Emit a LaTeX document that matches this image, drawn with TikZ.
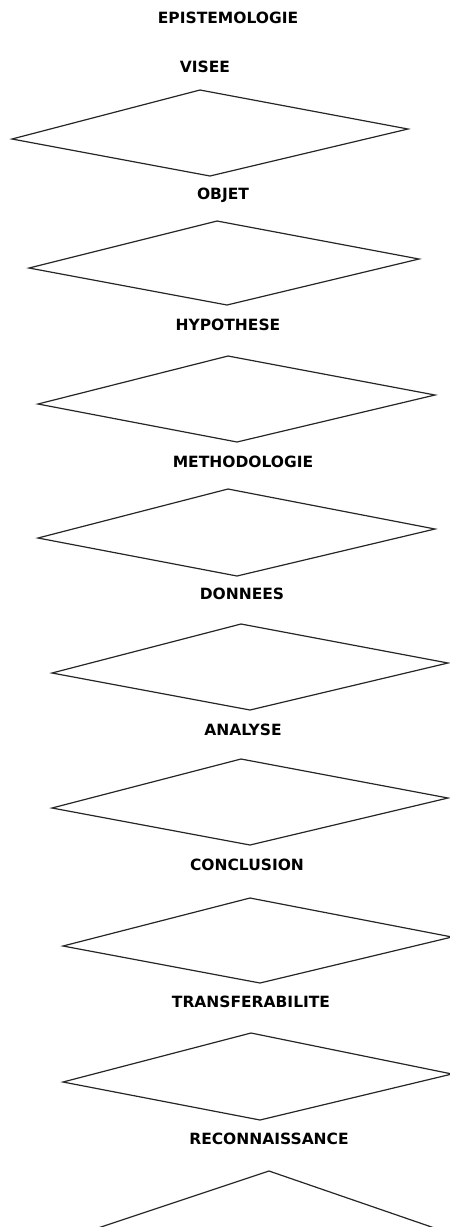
\documentclass[tikz,border=0pt]{standalone}
\usepackage{fontspec}
\setmainfont{DejaVu Sans}
\begin{document}
\begin{tikzpicture}[x=1pt,y=-1pt,
  lbl/.style={font=\bfseries\fontsize{15.5}{17}\selectfont, inner sep=0pt, anchor=center, text=black},
  rhomb/.style={draw=black!85, line width=1.2pt, line join=miter}]
\useasboundingbox (0,0) rectangle (450,1227);
\clip (0,0) rectangle (450,1227);
\node[lbl] (title) at (228,18) {EPISTEMOLOGIE};
\node[lbl] (l1) at (205,67) {VISEE};
\node[lbl] (l2) at (223,195) {OBJET};
\node[lbl] (l3) at (228,325) {HYPOTHESE};
\node[lbl] (l4) at (243,462) {METHODOLOGIE};
\node[lbl] (l5) at (242,594) {DONNEES};
\node[lbl] (l6) at (243,730) {ANALYSE};
\node[lbl] (l7) at (247,865) {CONCLUSION};
\node[lbl] (l8) at (251,1002) {TRANSFERABILITE};
\node[lbl] (l9) at (269,1139) {RECONNAISSANCE};
\draw[rhomb] (200,90) -- (408,129) -- (210,176) -- (12,139) -- cycle;
\draw[rhomb] (217,221) -- (419,259) -- (227,305) -- (29,268) -- cycle;
\draw[rhomb] (228,356) -- (435,395) -- (237,442) -- (38,404) -- cycle;
\draw[rhomb] (228,489) -- (435,529) -- (237,576) -- (38,538) -- cycle;
\draw[rhomb] (241,624) -- (448,663) -- (250,710) -- (52,673) -- cycle;
\draw[rhomb] (241,759) -- (448,798) -- (250,845) -- (52,808) -- cycle;
\draw[rhomb] (250,898) -- (452,937) -- (260,983) -- (63,946) -- cycle;
\draw[rhomb] (251,1033) -- (452,1074) -- (260,1120) -- (63,1082) -- cycle;
\draw[rhomb] (269,1171) -- (478,1243) -- (280,1320) -- (56,1242) -- cycle;
\end{tikzpicture}
\end{document}
